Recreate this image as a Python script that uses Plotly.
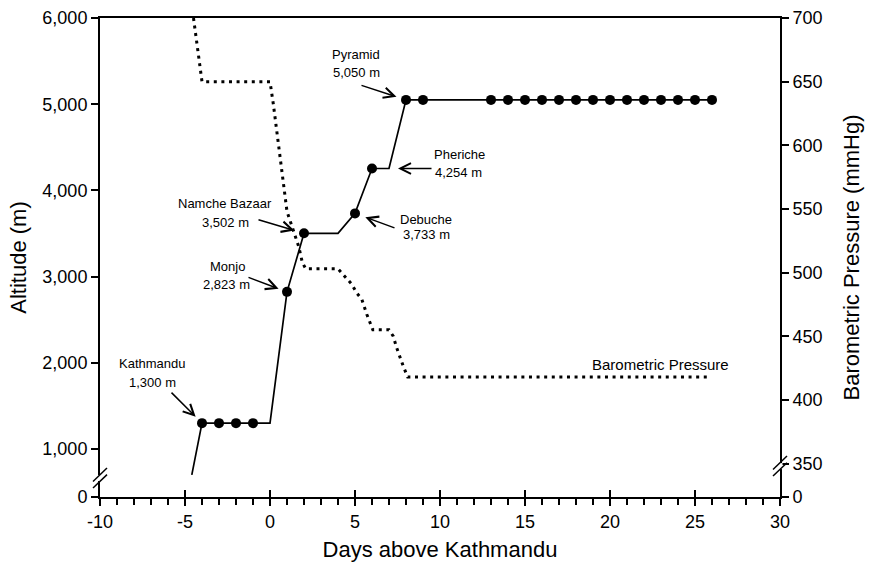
import plotly.graph_objects as go

# ---------------- data ----------------
# altitude path (days above Kathmandu, metres)
path_days = [-4.6, -4, -3, -2, -1, 0, 1, 2, 4, 5, 6, 7, 8, 9,
             13, 14, 15, 16, 17, 18, 19, 20, 21, 22, 23, 24, 25, 26]
path_alt = [700, 1300, 1300, 1300, 1300, 1300, 2823, 3502, 3502, 3733, 4254, 4254, 5050, 5050,
            5050, 5050, 5050, 5050, 5050, 5050, 5050, 5050, 5050, 5050, 5050, 5050, 5050, 5050]

# nights spent (dots)
dot_days = [-4, -3, -2, -1, 1, 2, 5, 6, 8, 9,
            13, 14, 15, 16, 17, 18, 19, 20, 21, 22, 23, 24, 25, 26]
dot_alt = [1300, 1300, 1300, 1300, 2823, 3502, 3733, 4254, 5050, 5050,
           5050, 5050, 5050, 5050, 5050, 5050, 5050, 5050, 5050, 5050, 5050, 5050, 5050, 5050]

# barometric pressure (mmHg)
pressure_days = [-4.5, -4, 0, 0.2, 1, 1.4, 1.7, 1.9, 2.1, 4, 4.4, 4.8, 5.1, 5.4, 5.7, 6.05,
                 7, 7.25, 7.45, 7.65, 7.85, 8.1, 25.7]
pressure = [700, 650, 650, 632, 548, 531, 520, 508, 503, 503, 497, 491, 484, 479, 467, 455,
            455, 450, 441, 433, 426, 418, 418]

# labelled sites
site_names = ["Kathmandu", "Monjo", "Namche Bazaar", "Debuche", "Pheriche", "Pyramid"]
site_days = [-4, 1, 2, 5, 6, 8]
site_alt = [1300, 2823, 3502, 3733, 4254, 5050]
arrow_days = [-4, 1, 2, 5, 7, 8]

alt_ticks = [1000, 2000, 3000, 4000, 5000, 6000]
pres_ticks = [350, 400, 450, 500, 550, 600, 650, 700]
x_ticks = [-10, -5, 0, 5, 10, 15, 20, 25, 30]

# ---------------- styling ----------------
FONT = "Liberation Sans, Arial, sans-serif"
ALT_BOTTOM = 443      # where the broken left axis reaches "0"
PRES_BOTTOM = 323.7   # where the broken right axis reaches "0"
ALT_BREAK = 663
PRES_BREAK = 348

# per-site annotation layout: (tail dx, tail dy, standoff, name shift, value shift)
ann_style = [
    (-32, -32, 9, (-50, 60), (-50, 41)),
    (-40, -15, 9, (-60, 25), (-61, 7)),
    (-47, -14, 10, (-79, 30), (-79, 11)),
    (41, 15, 11, (71, -6), (71, -21)),
    (44, 0, 9, (87, 14), (86, -4)),
    (-46, -15, 10, (-50, 45), (-50, 27)),
]

fig = go.Figure()

fig.add_trace(go.Scatter(
    x=pressure_days, y=pressure, yaxis="y2", mode="lines",
    line=dict(color="black", width=3, dash="3px,4.6px"),
    hoverinfo="skip", showlegend=False))

fig.add_trace(go.Scatter(
    x=path_days, y=path_alt, mode="lines",
    line=dict(color="black", width=1.7),
    hoverinfo="skip", showlegend=False))

fig.add_trace(go.Scatter(
    x=dot_days, y=dot_alt, mode="markers",
    marker=dict(color="black", size=10),
    hoverinfo="skip", showlegend=False))

# invisible trace to activate the overlay x-axis carrying the inner tick marks
fig.add_trace(go.Scatter(x=[x_ticks[0]], y=[alt_ticks[0]], xaxis="x3", mode="markers",
                         marker=dict(opacity=0), hoverinfo="skip", showlegend=False))

annotations = []
for name, d, a, ad, st in zip(site_names, site_days, site_alt, arrow_days, ann_style):
    tdx, tdy, so, ns, vs = st
    annotations.append(dict(
        x=ad, y=a, xref="x", yref="y", text="", showarrow=True,
        ax=tdx, ay=tdy, standoff=so, arrowhead=5, arrowsize=1.4, arrowwidth=1.5,
        arrowcolor="black"))
    annotations.append(dict(
        x=d, y=a, xref="x", yref="y", text=name, showarrow=False,
        xshift=ns[0], yshift=ns[1], font=dict(family=FONT, size=13, color="black")))
    annotations.append(dict(
        x=d, y=a, xref="x", yref="y", text=f"{a:,} m", showarrow=False,
        xshift=vs[0], yshift=vs[1], font=dict(family=FONT, size=13, color="black")))

annotations.append(dict(
    x=pressure_days[-1], y=pressure[-1], xref="x", yref="y2", text="Barometric Pressure",
    showarrow=False, xshift=-46, yshift=12, font=dict(family=FONT, size=15, color="black")))

# axis break marks
shapes = []
for xa, yref, yv in [(0, "y", ALT_BREAK), (1, "y2", PRES_BREAK)]:
    shapes.append(dict(type="rect", xref="paper", yref=yref, xsizemode="pixel", ysizemode="pixel",
                       xanchor=xa, yanchor=yv, x0=-2.5, x1=2.5, y0=-3, y1=3,
                       fillcolor="white", line=dict(width=0), layer="above"))
    for off in (3.3, -3.3):
        shapes.append(dict(type="line", xref="paper", yref=yref, xsizemode="pixel", ysizemode="pixel",
                           xanchor=xa, yanchor=yv, x0=-7, x1=7, y0=off - 6.7, y1=off + 6.7,
                           line=dict(color="black", width=1.5), layer="above"))

tickfont = dict(family=FONT, size=18, color="black")
titlefont = dict(family=FONT, size=22, color="black")

fig.update_layout(
    width=871, height=562,
    margin=dict(l=100, r=91, t=18, b=65, autoexpand=False),
    paper_bgcolor="white", plot_bgcolor="white",
    showlegend=False,
    annotations=annotations,
    shapes=shapes,
    xaxis=dict(range=[-10, 30], tickvals=x_ticks, ticktext=[str(v) for v in x_ticks],
               ticks="outside", ticklen=7, tickwidth=1.5, tickcolor="black",
               minor=dict(dtick=1, tick0=0, ticks="outside", ticklen=6, tickwidth=1.5, tickcolor="black"),
               showline=True, linewidth=2, linecolor="black", mirror=True,
               showgrid=False, zeroline=False, tickfont=tickfont, automargin=False,
               title=dict(text="Days above Kathmandu", font=titlefont, standoff=11)),
    xaxis3=dict(range=[-10, 30], overlaying="x", anchor="y", side="bottom",
                tickvals=x_ticks, ticks="inside", ticklen=7, tickwidth=1.5, tickcolor="black",
                showticklabels=False, showline=False, showgrid=False, zeroline=False,
                automargin=False),
    yaxis=dict(range=[ALT_BOTTOM, 6000],
               tickvals=[ALT_BOTTOM] + alt_ticks,
               ticktext=["0"] + [f"{v:,}" for v in alt_ticks],
               ticks="outside", ticklen=7, tickwidth=1.5, tickcolor="black",
               showline=True, linewidth=2, linecolor="black",
               showgrid=False, zeroline=False, tickfont=tickfont, automargin=False,
               title=dict(text="Altitude (m)", font=titlefont, standoff=10)),
    yaxis2=dict(range=[PRES_BOTTOM, 700], overlaying="y", side="right", anchor="x",
                tickvals=[PRES_BOTTOM] + pres_ticks,
                ticktext=["0"] + [str(v) for v in pres_ticks],
                ticks="outside", ticklen=7, tickwidth=1.5, tickcolor="black",
                showline=True, linewidth=2, linecolor="black",
                showgrid=False, zeroline=False, tickfont=tickfont, automargin=False,
                title=dict(text="Barometric Pressure (mmHg)", font=titlefont, standoff=22)),
)

fig.write_html("out.html")
